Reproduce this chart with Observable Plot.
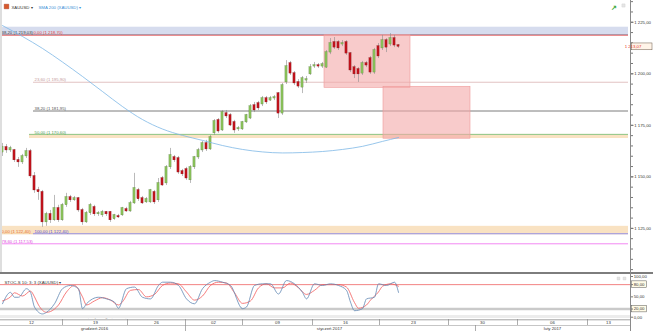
<!DOCTYPE html>
<html><head><meta charset="utf-8">
<script src="https://cdn.jsdelivr.net/npm/d3@7"></script>
<script src="https://cdn.jsdelivr.net/npm/@observablehq/plot@0.6"></script>
<style>
body{margin:0;background:#fff;width:653px;height:331px;overflow:hidden;font-family:"Liberation Sans",Arial,sans-serif}
#wrap{position:relative;width:653px;height:331px}
#wrap svg{display:block}
.sep{height:2px;background:#7d7d7d;width:653px}
.vline{position:absolute;left:630px;top:0;width:1px;height:331px;background:#8a8a8a}
.lline{position:absolute;left:0;top:0;width:1.5px;height:272px;background:#dedede}
.strip{position:absolute;left:0;top:315px;width:630px;height:3px;background:#ececec}
</style></head><body><div id="wrap"><div class="strip"></div></div>
<script>
// ---- data ----
const ohlc = [ // [open, high, low, close] per bar
[1161.8,1166.2,1159.9,1164.3],[1164.3,1165.7,1161.4,1162.8],[1162.8,1164.8,1161.8,1163.8],[1162.8,1163.3,1157.0,1158.0],
[1158.0,1159.4,1154.6,1157.0],[1157.0,1160.9,1156.0,1159.9],[1159.9,1163.8,1158.9,1162.3],[1162.3,1163.3,1149.2,1150.2],
[1150.2,1152.1,1142.0,1143.4],[1143.4,1144.9,1138.6,1142.5],[1142.5,1143.4,1125.5,1127.9],[1127.9,1132.8,1126.0,1131.8],
[1131.8,1133.7,1127.4,1128.9],[1128.9,1141.0,1128.4,1134.7],[1134.7,1136.2,1127.9,1128.9],[1128.9,1137.1,1128.4,1136.2],
[1136.2,1142.0,1135.2,1140.0],[1140.0,1141.0,1137.6,1138.6],[1138.6,1140.5,1138.1,1139.5],[1139.5,1140.0,1132.8,1133.7],
[1133.7,1134.7,1126.5,1127.9],[1127.9,1133.2,1127.4,1132.3],[1132.3,1137.1,1131.3,1136.2],[1135.2,1136.2,1130.8,1131.8],
[1131.8,1133.2,1130.8,1132.3],[1131.3,1133.7,1130.3,1132.8],[1132.8,1133.2,1130.8,1131.8],[1132.8,1133.2,1127.9,1128.9],
[1129.4,1131.8,1128.9,1131.3],[1130.8,1131.8,1129.8,1130.3],[1131.3,1135.2,1130.8,1134.7],[1134.2,1135.2,1132.8,1133.2],
[1133.2,1138.1,1132.8,1137.1],[1137.1,1151.7,1136.6,1144.4],[1143.4,1144.4,1138.1,1139.1],[1139.5,1140.5,1136.6,1137.1],
[1137.6,1140.0,1137.1,1139.1],[1137.6,1143.9,1137.1,1143.4],[1142.5,1143.4,1136.6,1137.6],[1138.6,1149.2,1137.6,1146.8],
[1149.2,1150.2,1145.4,1145.8],[1146.8,1155.5,1145.8,1154.6],[1154.6,1163.8,1153.6,1160.4],[1159.4,1160.4,1157.0,1158.0],
[1158.9,1159.9,1151.2,1152.1],[1152.6,1153.6,1150.2,1151.2],[1153.6,1154.6,1148.3,1149.2],[1148.3,1155.5,1146.8,1154.6],
[1154.6,1159.9,1153.6,1159.4],[1159.4,1163.8,1158.4,1162.8],[1162.8,1167.2,1161.8,1166.2],[1166.2,1167.7,1162.3,1163.3],
[1163.3,1170.1,1162.8,1169.1],[1171.1,1177.8,1170.1,1176.9],[1177.4,1178.3,1171.1,1172.0],[1172.5,1182.2,1172.0,1181.2],
[1180.7,1182.2,1178.3,1179.3],[1179.8,1180.7,1174.4,1174.9],[1176.4,1177.4,1171.1,1172.5],[1173.0,1174.4,1172.0,1173.5],
[1173.0,1176.9,1172.5,1176.4],[1176.4,1180.3,1175.9,1179.8],[1178.3,1185.1,1177.8,1184.1],[1184.6,1186.1,1181.2,1182.2],
[1185.6,1186.6,1182.2,1183.2],[1185.1,1189.0,1184.1,1188.0],[1188.0,1189.0,1185.1,1186.1],[1187.0,1189.0,1186.6,1188.0],
[1188.0,1189.5,1187.0,1188.5],[1190.4,1190.9,1178.3,1180.7],[1180.7,1195.3,1179.8,1194.3],[1195.8,1206.4,1194.8,1203.5],
[1205.0,1206.0,1199.2,1200.1],[1200.1,1201.1,1194.3,1195.3],[1195.8,1197.2,1192.9,1193.8],[1193.3,1198.7,1190.4,1197.7],
[1196.7,1198.7,1195.3,1197.2],[1199.7,1204.5,1199.2,1203.0],[1203.5,1205.5,1202.6,1204.0],[1204.0,1205.0,1202.6,1203.5],
[1203.5,1205.5,1202.6,1204.5],[1203.0,1211.3,1202.6,1210.3],[1210.3,1217.1,1209.3,1214.7],[1215.2,1217.6,1211.8,1212.7],
[1215.2,1216.1,1211.3,1212.3],[1214.2,1216.1,1213.2,1214.7],[1215.2,1216.1,1208.9,1209.8],[1209.8,1210.3,1200.6,1201.6],
[1203.0,1204.0,1197.7,1199.7],[1202.1,1203.0,1195.8,1199.7],[1200.1,1206.0,1199.2,1205.0],[1205.0,1206.0,1203.0,1204.0],
[1207.4,1208.4,1199.7,1200.6],[1200.6,1212.3,1199.7,1211.3],[1213.2,1214.7,1207.4,1208.4],[1212.3,1218.6,1211.3,1216.1],
[1216.1,1217.1,1210.3,1212.7],[1214.2,1219.5,1213.2,1217.1],[1217.1,1218.6,1212.7,1213.7],[1213.7,1214.2,1212.3,1213.07]
];
const lastPrice = 1213.07;

const smaBars   = [0,5,10,15,20,25,30,35,40,45,50,55,60,65,70,75,80,85,90,95,99];
const smaValues = [1223.4,1218.1,1212.3,1205.7,1198.7,1191.4,1184.1,1177.8,1173.2,1170.1,1167.7,1165.2,1163.3,1162.1,1161.6,1161.8,1162.3,1163.3,1164.8,1167.2,1169.1];

const fibPct    = [38.2, 0, 23.6, 38.2, 50, 0, 100, 78.6];
const fibPrices = [1219.03, 1218.70, 1195.90, 1181.95, 1170.60, 1122.40, 1122.40, 1117.53];
const fibFromBar  = [-0.5, -0.5, 7.75, 7.75, 6.75, -0.5, 7.75, -0.5];
const fibLabelBar = [-0.5, 7.5, 7.75, 7.75, 7.75, -0.5, 7.75, -0.5];

const bandLow     = [1219.03, 1168.6, 1122.4];
const bandHigh    = [1222.6, 1170.6, 1126.0];
const bandFromBar = [-0.5, 6.75, -0.5];

const zoneFromBar = [80.5, 95.25];
const zoneToBar   = [102, 117];
const zoneLow     = [1193.2, 1168.5];
const zoneHigh    = [1218.7, 1193.7];

const priceTicks = [1125, 1150, 1175, 1200, 1225];
const priceMinorTicks = d3.range(1105, 1236, 5);

const stochKBars   = [0,2,3,4,6,7,8,10,11,13,15,17,19,20,21,24,26,28,29,31,33,35,37,39,40,42,44,46,48,50,52,53,55,57,60,61,63,65,67,69,71,73,75,76,78,80,82,84,86,87,88,90,91,93,94,96,98,99];
const stochKValues = [33,61,49,49,70,61,25,8,12,33,70,78,70,21,33,49,45,37,22,70,74,49,45,78,86,86,78,45,33,70,86,90,86,78,21,25,78,82,82,57,90,82,61,45,82,78,82,78,66,37,16,21,45,49,82,78,86,61];
const stochDBars   = [0,2,3,5,7,8,9,11,12,14,16,18,20,21,23,25,27,29,30,32,34,36,38,40,42,44,46,48,50,52,54,56,58,60,62,64,66,68,70,72,74,76,78,80,82,84,86,88,89,91,92,94,95,97,99];
const stochDValues = [40,50,60,52,64,50,30,12,14,30,62,78,50,30,40,48,42,30,38,66,68,50,56,78,84,82,62,42,52,78,86,84,60,34,40,72,82,72,72,84,72,56,66,80,80,80,74,36,22,30,42,62,76,82,76];
const stochTicks = [0, 20, 50, 80, 100];

const weekLabels    = ["12","19","26","02","09","16","23","30","06","13"];
const weekLabelBars = [7.25, 23.25, 38.5, 52.75, 68.75, 85.75, 102.75, 120, 137.5, 151.5];
const weekTickBars  = [15, 31.25, 45.75, 60, 77.5, 94.25, 111.5, 128.75, 146.25];
const monthLabels    = ["grudzień 2016", "styczeń 2017", "luty 2017"];
const monthLabelBars = [23, 81.75, 137.5];
const monthTickBars  = [45.75, 118.25];

// ---- styles ----
const fibText = ["#3a3a3a","#e04343","#c49a9a","#555555","#4f9a4f","#e8702e","#5050d8","#dc48dc"];
const fibLine = ["#8e95b0","#e45a5a","#dfbcbc","#6e6e6e","#82c482","#f2c890","#8c8cf0","#f07cf0"];
const bandFill = ["#d6dcee","#f9e2c2","#f9e2c2"];
const fmt = d3.formatLocale({decimal:",", thousands:" ", grouping:[3], currency:["",""]}).format(",.2f");
const XS = {type:"linear", domain:[-0.5,156.5], range:[0,628], axis:null};
const FONT = {fontFamily:"Liberation Sans, Arial, sans-serif", fontSize:"4.3px", background:"transparent", overflow:"visible"};
const idx = a => a.map((_, i) => i);

const wrap = document.getElementById("wrap");

// ---- main price panel ----
const main = Plot.plot({
  width:653, height:272, marginTop:0, marginBottom:0, marginLeft:0, marginRight:23,
  x: XS,
  y: {domain:[1103.6, 1235.56], range:[272, 0], axis:null},
  style: FONT,
  marks: [
    Plot.rect(idx(bandLow), {x1: i => bandFromBar[i], x2: 156.5, y1: i => bandLow[i], y2: i => bandHigh[i], fill: i => bandFill[i]}),
    Plot.ruleY(idx(fibPrices), {y: i => fibPrices[i], x1: i => fibFromBar[i], x2: 156.5, stroke: i => fibLine[i], strokeWidth: 0.9}),
    Plot.text(idx(fibPrices), {x: i => fibLabelBar[i], y: i => fibPrices[i], text: i => `${fmt(fibPct[i])} (${fmt(fibPrices[i])})`, fill: i => fibText[i], textAnchor:"start", dx: 1, dy: -2.2}),
    Plot.rect(idx(zoneLow), {x1: i => zoneFromBar[i], x2: i => zoneToBar[i], y1: i => zoneLow[i], y2: i => zoneHigh[i], fill:"#f4a9a9", fillOpacity:0.6, stroke:"#ef9a9a", strokeWidth:0.6}),
    Plot.ruleX(ohlc, {x: (d, i) => i, y1: d => d[2], y2: d => d[1], stroke:"#8c8c8c", strokeWidth:0.6}),
    Plot.rect(ohlc, {x1: (d, i) => i - 0.27, x2: (d, i) => i + 0.27, y1: d => Math.min(d[0], d[3]), y2: d => Math.max(d[0], d[3]) + 0.2,
      fill: d => d[3] >= d[0] ? "#8cc45a" : "#c4141c", stroke: d => d[3] >= d[0] ? "#55783a" : "#7a0c10", strokeWidth:0.3}),
    Plot.line(smaBars, {x: d => d, y: (d, i) => smaValues[i], stroke:"#7db8e6", strokeWidth:0.8, curve:"monotone-x"}),
    Plot.axisY(priceMinorTicks, {anchor:"right", tickSize:2, tickFormat: () => "", stroke:"#777"}),
    Plot.axisY(priceTicks, {anchor:"right", tickSize:2.5, tickPadding:1.2, tickFormat: fmt, fill:"#333", stroke:"#777"}),
    Plot.dot([0], {frameAnchor:"top-left", dx:6, dy:6, symbol:"square", r:2.6, fill:"#d8582a", stroke:"#a0301a", strokeWidth:0.4}),
    Plot.text(["XAUUSD ▾"], {text: d => d, frameAnchor:"top-left", dx:11, dy:5.6, textAnchor:"start", fill:"#333"}),
    Plot.text(["SMA 200 (XAUUSD) ▾"], {text: d => d, frameAnchor:"top-left", dx:38, dy:5.6, textAnchor:"start", fill:"#3d8fd6"}),
    Plot.text(["↗"], {text: d => d, frameAnchor:"top-right", dx:-14, dy:5, fill:"#3aa83a", fontSize:7, fontWeight:"bold"}),
    Plot.dot([0], {frameAnchor:"top-right", dx:-7, dy:5, symbol:"square", r:1.8, fill:"#e6e6e6", stroke:"#cfcfcf", strokeWidth:0.4})
  ]
});
wrap.appendChild(main);
{
  const y = main.scale("y").apply(lastPrice);
  const g = d3.select(main).append("g");
  g.append("rect").attr("x",631.5).attr("y",y-3.4).attr("width",20.5).attr("height",6.8)
    .attr("fill","#fff4e8").attr("stroke","#6a5a4a").attr("stroke-width",0.5);
  g.append("text").attr("x",633).attr("y",y).attr("dy","0.35em").attr("fill","#e5332a").text(fmt(lastPrice));
}

const sep = document.createElement("div"); sep.className = "sep"; wrap.appendChild(sep);

// ---- stochastic panel ----
const stoch = Plot.plot({
  width:653, height:45, marginTop:0, marginBottom:0, marginLeft:0, marginRight:23,
  x: XS,
  y: {domain:[0,100], range:[42.7, 2], axis:null},
  style: FONT,
  marks: [
    Plot.ruleY([20], {stroke:"#cacaca", strokeWidth:2.4}),
    Plot.ruleY([80], {stroke:"#f27474", strokeWidth:0.9}),
    Plot.line(stochDBars, {x: d => d, y: (d, i) => stochDValues[i], stroke:"#f25a5a", strokeWidth:0.8, curve:"monotone-x"}),
    Plot.line(stochKBars, {x: d => d, y: (d, i) => stochKValues[i], stroke:"#5f86b2", strokeWidth:0.8, curve:"monotone-x"}),
    Plot.axisY(stochTicks, {anchor:"right", tickSize:2, tickPadding:1.2, tickFormat: fmt, fill:"#333", stroke:"#777"}),
    Plot.text(["STOC-S 10; 3; 3 (XAUUSD) ▾"], {text: d => d, frameAnchor:"top-left", dx:4, dy:6, textAnchor:"start", fill:"#333"}),
    Plot.text(["CENA ORIENTACYJNA · Strefa czasowa: Brussels, Copenhagen, Madrid, Paris"], {text: d => d, frameAnchor:"bottom-left", dx:1, dy:-1.6, textAnchor:"start", fill:"#8a8a8a", fontSize:3.8}),
    Plot.dot([0], {frameAnchor:"top-right", dx:-12, dy:4, symbol:"square", r:1.6, fill:"#e4e4e4", stroke:"#cfcfcf", strokeWidth:0.4}),
    Plot.dot([0], {frameAnchor:"top-right", dx:-6, dy:4, symbol:"square", r:1.6, fill:"#e4e4e4", stroke:"#cfcfcf", strokeWidth:0.4})
  ]
});
wrap.appendChild(stoch);
for (const v of [80, 20]) {
  const y = stoch.scale("y").apply(v);
  d3.select(stoch).insert("rect", ":first-child").attr("x",631.5).attr("y",y-3.3).attr("width",15).attr("height",6.6)
    .attr("fill","#fffbe6").attr("stroke","#555").attr("stroke-width",0.5);
}

// ---- time axis ----
const time = Plot.plot({
  width:653, height:12, marginTop:0, marginBottom:0, marginLeft:0, marginRight:23,
  x: XS,
  y: {domain:[0,2], range:[0,12], axis:null},
  style: FONT,
  marks: [
    Plot.ruleY([0.05], {stroke:"#8a8a8a", strokeWidth:0.8}),
    Plot.ruleY([1], {stroke:"#a0a0a0", strokeWidth:0.6}),
    Plot.ruleX(weekTickBars, {x: d => d, y1:0, y2:1, stroke:"#8a8a8a", strokeWidth:0.7}),
    Plot.ruleX(monthTickBars, {x: d => d, y1:1, y2:2, stroke:"#8a8a8a", strokeWidth:0.7}),
    Plot.text(weekLabels, {x: (d, i) => weekLabelBars[i], y:0.55, text: d => d, fill:"#333"}),
    Plot.text(monthLabels, {x: (d, i) => monthLabelBars[i], y:1.5, text: d => d, fill:"#333"})
  ]
});
wrap.appendChild(time);

const vl = document.createElement("div"); vl.className = "vline"; wrap.appendChild(vl);
const ll = document.createElement("div"); ll.className = "lline"; wrap.appendChild(ll);
</script>
</body></html>
